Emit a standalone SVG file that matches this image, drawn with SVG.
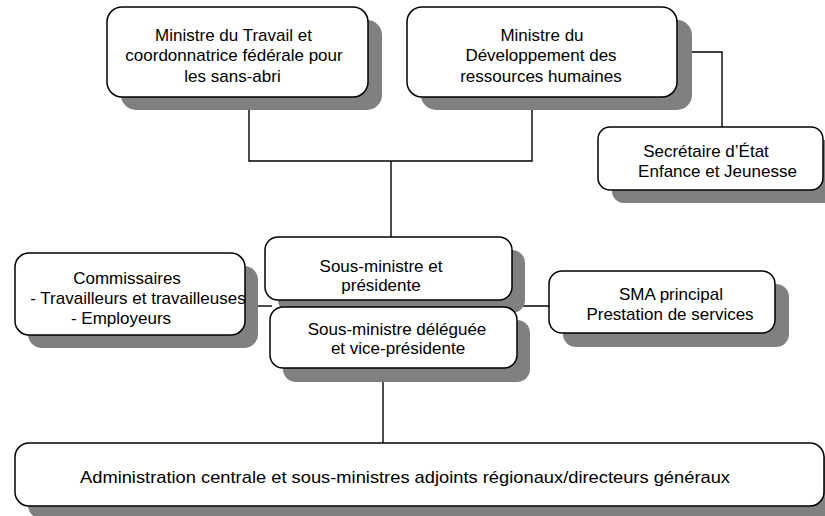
<svg xmlns="http://www.w3.org/2000/svg" width="825" height="516" viewBox="0 0 825 516">
<style>
.sh{fill:#808080;stroke:none}
.bx{fill:#fff;stroke:#000;stroke-width:1.5}
.t{font-family:"Liberation Sans",Arial,sans-serif;font-size:17px;fill:#000;text-anchor:middle}
.ln{fill:none;stroke:#000;stroke-width:1.4}
</style>
<rect width="825" height="516" fill="#fff"/>
<g id="connectors">
<path class="ln" d="M249,97 V161 H532 V97 M391,161 V237"/>
<path class="ln" d="M677,52 H722 V127"/>
<path class="ln" d="M245,306 H272"/>
<path class="ln" d="M514,306 H550"/>
<path class="ln" d="M383,368 V443"/>
</g>
<g id="n1">
<rect class="sh" x="121" y="20" width="261" height="90" rx="15"/>
<rect class="bx" x="107" y="7" width="261" height="90" rx="15"/>
<text class="t" x="233.5" y="40.5">Ministre du Travail et</text>
<text class="t" x="234" y="61">coordonnatrice fédérale pour</text>
<text class="t" x="232.5" y="81.5">les sans-abri</text>
</g>
<g id="n2">
<rect class="sh" x="421" y="20" width="271" height="90" rx="15"/>
<rect class="bx" x="407" y="7" width="270" height="90" rx="15"/>
<text class="t" x="542" y="40.5">Ministre du</text>
<text class="t" x="541" y="61">Développement des</text>
<text class="t" x="541" y="81.5">ressources humaines</text>
</g>
<g id="n3">
<rect class="sh" x="612" y="140" width="225" height="63" rx="12"/>
<rect class="bx" x="598" y="127" width="225" height="63" rx="12"/>
<text class="t" x="706" y="157">Secrétaire d’État</text>
<text class="t" x="717.5" y="177">Enfance et Jeunesse</text>
</g>
<g id="n4">
<rect class="sh" x="28" y="266" width="230" height="82" rx="14"/>
<rect class="bx" x="15" y="253" width="230" height="82" rx="14"/>
<text class="t" x="127" y="284">Commissaires</text>
<text class="t" x="138" y="304">- Travailleurs et travailleuses</text>
<text class="t" x="121" y="324">- Employeurs</text>
</g>
<g id="n5">
<rect class="sh" x="278" y="250" width="247" height="63" rx="13"/>
<rect class="bx" x="265" y="237" width="247" height="63" rx="13"/>
<text class="t" x="381" y="272">Sous-ministre et</text>
<text class="t" x="381" y="291">présidente</text>
</g>
<g id="n6">
<rect class="sh" x="283" y="320" width="247" height="62" rx="13"/>
<rect class="bx" x="270" y="307" width="247" height="61" rx="13"/>
<text class="t" x="397" y="335">Sous-ministre déléguée</text>
<text class="t" x="398" y="354">et vice-présidente</text>
</g>
<g id="n7">
<rect class="sh" x="563" y="284" width="226" height="63" rx="13"/>
<rect class="bx" x="549" y="271" width="226" height="62" rx="13"/>
<text class="t" x="671" y="300">SMA principal</text>
<text class="t" x="670" y="320">Prestation de services</text>
</g>
<g id="n8">
<rect class="sh" x="28" y="456" width="810" height="63" rx="14"/>
<rect class="bx" x="15" y="443" width="809" height="63" rx="14"/>
<text class="t" x="405" y="483" textLength="650" lengthAdjust="spacingAndGlyphs">Administration centrale et sous-ministres adjoints régionaux/directeurs généraux</text>
</g>
</svg>
